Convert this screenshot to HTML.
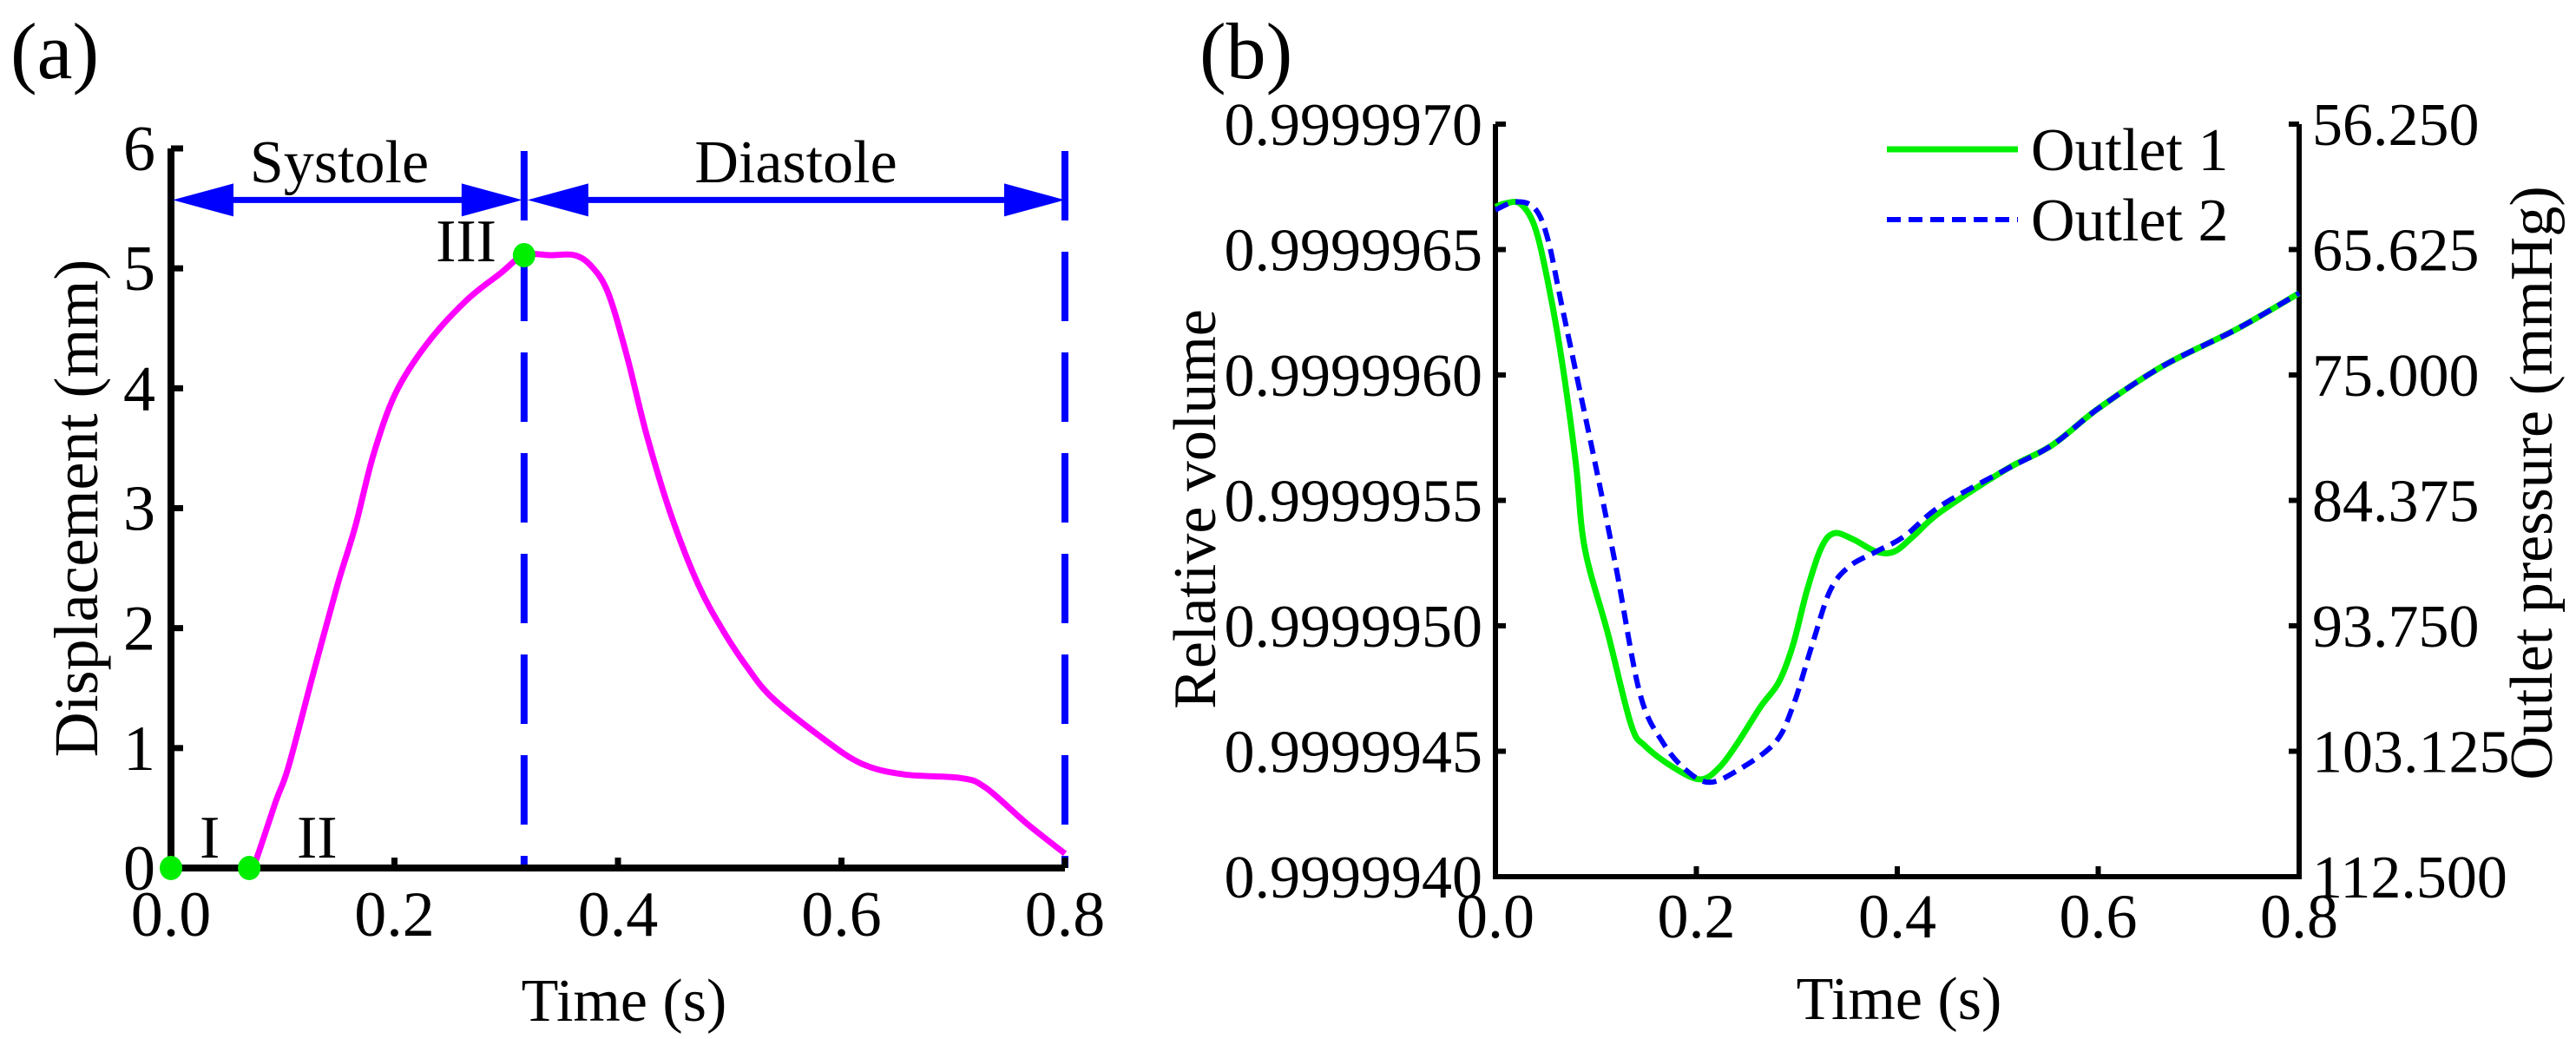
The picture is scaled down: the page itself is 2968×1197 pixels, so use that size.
<!DOCTYPE html>
<html><head><meta charset="utf-8">
<style>
html,body{margin:0;padding:0;background:#fff;}
svg, svg text{font-family:"Liberation Serif","Times New Roman",Times,serif;}
svg{display:block;}
</style></head>
<body>
<svg id="fig" width="2968" height="1197" viewBox="0 0 2968 1197" xmlns="http://www.w3.org/2000/svg" font-family="Liberation Serif, serif">
<g id="pa"></g>
<g id="pb"></g>
</svg>
<script>
// ---- Panel (a) data ----
const aTime = [0.0,0.07,0.075,0.094,0.105,0.127,0.149,0.165,0.181,0.201,0.229,0.264,0.295,0.316,0.340,0.361,0.376,0.391,0.408,0.426,0.448,0.472,0.494,0.516,0.538,0.582,0.618,0.656,0.707,0.729,0.766,0.800];
const aDisp = [0.0,0.0,0.04,0.56,0.84,1.61,2.36,2.85,3.44,3.96,4.37,4.73,4.96,5.11,5.11,5.11,5.02,4.80,4.27,3.60,2.93,2.36,1.98,1.67,1.42,1.09,0.87,0.78,0.75,0.67,0.37,0.12];
const aMarkT = [0.0,0.07,0.316];
const aMarkD = [0.0,0.0,5.11];
const aMarkLabels = ["I","II","III"];
const aXTicks = [0.0,0.2,0.4,0.6,0.8];
const aXTickLabels = ["0.0","0.2","0.4","0.6","0.8"];
const aYTicks = [0,1,2,3,4,5,6];
const aPhaseT = [0.316,0.8];
// ---- Panel (b) data (relative volume offset from 0.999994, in 1e-7 units) ----
const bTime1 = [0,0.011,0.025,0.039,0.052,0.066,0.080,0.089,0.112,0.135,0.149,0.177,0.204,0.223,0.241,0.264,0.282,0.296,0.310,0.324,0.337,0.356,0.379,0.397,0.416,0.443,0.508,0.554,0.600,0.664,0.737,0.800];
const bOut1 = [26.70,26.85,26.82,25.93,23.75,20.60,16.48,13.08,9.69,6.06,5.21,4.36,3.88,4.36,5.33,6.78,7.75,9.21,11.39,13.08,13.69,13.45,12.96,12.96,13.57,14.54,16.23,17.20,18.66,20.35,21.81,23.26];
const bTime2 = [0,0.020,0.039,0.052,0.066,0.084,0.103,0.121,0.144,0.167,0.190,0.213,0.241,0.278,0.296,0.315,0.333,0.352,0.379,0.407,0.443,0.508,0.554,0.600,0.664,0.737,0.800];
const bOut2 = [26.58,26.90,26.65,25.44,22.78,19.38,15.75,12.12,7.27,5.33,4.24,3.76,4.24,5.33,6.78,9.21,11.39,12.36,12.96,13.57,14.78,16.23,17.20,18.66,20.35,21.81,23.26];
const bYTicks = [0,5,10,15,20,25,30];
const bYLabels = ["0.9999940","0.9999945","0.9999950","0.9999955","0.9999960","0.9999965","0.9999970"];
const bYRLabels = ["112.500","103.125","93.750","84.375","75.000","65.625","56.250"];
const bXTicks = [0.0,0.2,0.4,0.6,0.8];
const bXTickLabels = ["0.0","0.2","0.4","0.6","0.8"];

const NS="http://www.w3.org/2000/svg";
const FF="Liberation Serif, Times New Roman, serif";
function mk(parent,tag,attrs,text){const e=document.createElementNS(NS,tag);for(const k in attrs)e.setAttribute(k,attrs[k]);if(tag==='text')e.setAttribute('font-family',FF);if(text!==undefined)e.textContent=text;parent.appendChild(e);return e;}
// smooth Catmull-Rom path through points
function smooth(pts){
  let d='M'+pts[0][0].toFixed(1)+' '+pts[0][1].toFixed(1);
  for(let i=0;i<pts.length-1;i++){
    const p0=pts[i-1]||pts[i],p1=pts[i],p2=pts[i+1],p3=pts[i+2]||p2;
    const c1=[p1[0]+(p2[0]-p0[0])/6,p1[1]+(p2[1]-p0[1])/6];
    const c2=[p2[0]-(p3[0]-p1[0])/6,p2[1]-(p3[1]-p1[1])/6];
    d+=` C${c1[0].toFixed(1)} ${c1[1].toFixed(1)} ${c2[0].toFixed(1)} ${c2[1].toFixed(1)} ${p2[0].toFixed(1)} ${p2[1].toFixed(1)}`;
  }
  return d;
}

// ---------- Panel a ----------
const pa=document.getElementById('pa');
const ax=t=>197+t*(1227-197)/0.8;
const ay=d=>1000-d*(1000-171)/6;
let e;
e=mk(pa,'text',{x:12,y:90,'font-size':92});e.textContent='(a)';


aPhaseT.forEach((t,i)=>{
  e=mk(pa,'line',{x1:ax(t),y1:174,x2:ax(t),y2:1000,stroke:'#0000ff','stroke-width':8,'stroke-dasharray':'80 36'});
  
  
});
e=mk(pa,'path',{d:smooth(aTime.map((t,i)=>[ax(t),ay(aDisp[i])])),fill:'none',stroke:'#ff00ff','stroke-width':7,'stroke-linejoin':'round'});


e=mk(pa,'path',{d:`M${ax(0)} ${ay(6)} V${ay(0)} H${ax(0.8)}`,fill:'none',stroke:'#000','stroke-width':8});


aYTicks.forEach(v=>{
  e=mk(pa,'line',{x1:ax(0),y1:ay(v),x2:ax(0)+14,y2:ay(v),stroke:'#000','stroke-width':7});
  
  
  e=mk(pa,'text',{x:179,y:ay(v)+25,'font-size':74,'text-anchor':'end'},String(v));
  
  
});
aXTicks.forEach((v,i)=>{
  e=mk(pa,'line',{x1:ax(v),y1:ay(0),x2:ax(v),y2:ay(0)-12,stroke:'#000','stroke-width':7});
  
  
  e=mk(pa,'text',{x:ax(v),y:1078,'font-size':74,'text-anchor':'middle'},aXTickLabels[i]);
  
  
});
e=mk(pa,'text',{x:719,y:1176,'font-size':70,'text-anchor':'middle'},'Time (s)');


e=mk(pa,'text',{x:0,y:0,'font-size':72,'text-anchor':'middle',transform:`translate(112,${ay(3)}) rotate(-90)`},'Displacement (mm)');


function arrow(x1,x2,name){
  const y=ay(5.57);
  const g=mk(pa,'g',{});
  
  
  mk(g,'line',{x1:x1+60,y1:y,x2:x2-60,y2:y,stroke:'#0000ff','stroke-width':7});
  mk(g,'polygon',{points:`${x1},${y} ${x1+70},${y-19} ${x1+70},${y+19}`,fill:'#0000ff'});
  mk(g,'polygon',{points:`${x2},${y} ${x2-70},${y-19} ${x2-70},${y+19}`,fill:'#0000ff'});
}
arrow(ax(0)+2,ax(aPhaseT[0])-2,'systole-arrow');
arrow(ax(aPhaseT[0])+4,ax(aPhaseT[1]),'diastole-arrow');
e=mk(pa,'text',{x:391,y:210,'font-size':70,'text-anchor':'middle'},'Systole');


e=mk(pa,'text',{x:917,y:210,'font-size':70,'text-anchor':'middle'},'Diastole');


const lblPos=[[230,988,'start'],[342,988,'start'],[572,301,'end']];
aMarkT.forEach((t,i)=>{
  e=mk(pa,'ellipse',{cx:ax(t),cy:ay(aMarkD[i]),rx:13,ry:14,fill:'#00ee00'});
  
  
  e=mk(pa,'text',{x:lblPos[i][0],y:lblPos[i][1],'font-size':70,'text-anchor':lblPos[i][2]},aMarkLabels[i]);
  
  
});

// ---------- Panel b ----------
const pb=document.getElementById('pb');
const bx=t=>1723+t*(2649-1723)/0.8;
const by=u=>1010-u*(1010-143)/30;
e=mk(pb,'text',{x:1382,y:90,'font-size':92},'(b)');


e=mk(pb,'path',{d:`M${bx(0)} ${by(30)} V${by(0)} H${bx(0.8)} V${by(30)}`,fill:'none',stroke:'#000','stroke-width':6});


bYTicks.forEach((v,i)=>{
  e=mk(pb,'line',{x1:bx(0),y1:by(v),x2:bx(0)+12,y2:by(v),stroke:'#000','stroke-width':6});
  
  
  e=mk(pb,'line',{x1:bx(0.8),y1:by(v),x2:bx(0.8)-12,y2:by(v),stroke:'#000','stroke-width':6});
  
  
  e=mk(pb,'text',{x:1708,y:by(v)+24,'font-size':70,'text-anchor':'end'},bYLabels[i]);
  
  
  e=mk(pb,'text',{x:2664,y:by(v)+24,'font-size':70,'text-anchor':'start'},bYRLabels[i]);
  
  
});
bXTicks.forEach((v,i)=>{
  e=mk(pb,'line',{x1:bx(v),y1:by(0),x2:bx(v),y2:by(0)-12,stroke:'#000','stroke-width':6});
  
  
  e=mk(pb,'text',{x:bx(v),y:1080,'font-size':72,'text-anchor':'middle'},bXTickLabels[i]);
  
  
});
e=mk(pb,'text',{x:2188,y:1174,'font-size':70,'text-anchor':'middle'},'Time (s)');


e=mk(pb,'text',{x:0,y:0,'font-size':70,'text-anchor':'middle',transform:`translate(1400,${by(15)+10}) rotate(-90)`},'Relative volume');


e=mk(pb,'text',{x:0,y:0,'font-size':70,'text-anchor':'middle',transform:`translate(2940,${by(15)-20}) rotate(-90)`},'Outlet pressure (mmHg)');


function pathOf(ts,us){return smooth(ts.map((t,i)=>[bx(t),by(us[i])]));}
e=mk(pb,'path',{d:pathOf(bTime1,bOut1),fill:'none',stroke:'#00ee00','stroke-width':7,'stroke-linejoin':'round'});


e=mk(pb,'path',{d:pathOf(bTime2,bOut2),fill:'none',stroke:'#0000ff','stroke-width':6,'stroke-dasharray':'16 9','stroke-linejoin':'round'});


e=mk(pb,'line',{x1:2174,y1:172,x2:2325,y2:172,stroke:'#00ee00','stroke-width':7});


e=mk(pb,'text',{x:2340,y:196,'font-size':70},'Outlet 1');


e=mk(pb,'line',{x1:2174,y1:253,x2:2325,y2:253,stroke:'#0000ff','stroke-width':6,'stroke-dasharray':'16 9'});


e=mk(pb,'text',{x:2340,y:277,'font-size':70},'Outlet 2');


</script>
</body></html>
